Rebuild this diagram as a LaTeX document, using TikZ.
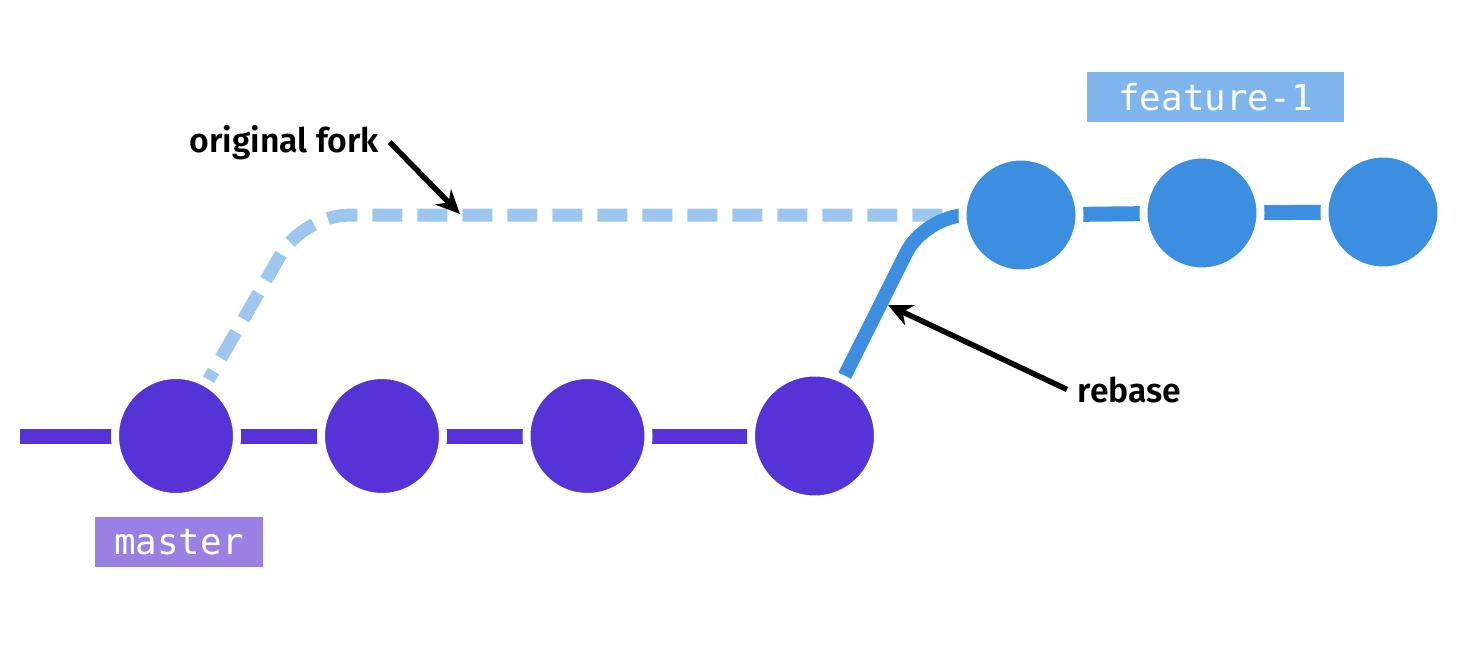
\documentclass[tikz,border=0pt]{standalone}
\usepackage{fontspec}
\newfontfamily\notefont{Fira Sans}[UprightFont={* Medium},BoldFont={* SemiBold}]
\newfontfamily\tagfont{DejaVu Sans Mono}
\usetikzlibrary{backgrounds,arrows.meta}
\definecolor{mastercol}{HTML}{5533D6}
\definecolor{featcol}{HTML}{3C8FE0}
\definecolor{forkcol}{HTML}{9EC7F0}
\definecolor{mastertagcol}{HTML}{9980E2}
\definecolor{feattagcol}{HTML}{80B4EC}

\begin{document}
\begin{tikzpicture}[
  commit/.style={circle,draw=white,line width=0.08cm,inner sep=0pt,minimum size=1.22cm},
  tag/.style={text=white,inner sep=0pt,minimum height=0.5cm,font=\tagfont\fontsize{10.2}{12}\selectfont},
  note/.style={font=\notefont\bfseries\fontsize{9.6}{11}\selectfont,inner sep=0.1cm},
  pointer/.style={line width=0.055cm,-{Stealth[length=0.24cm,width=0.22cm]}}
]
\useasboundingbox (0,0) rectangle (14.57,6.46);
\node[commit,fill=mastercol] (m1) at (1.76,2.10) {};
\node[commit,fill=mastercol] (m2) at (3.82,2.10) {};
\node[commit,fill=mastercol] (m3) at (5.875,2.10) {};
\node[commit,fill=mastercol,minimum size=1.27cm] (m4) at (8.145,2.10) {};
\node[commit,fill=featcol,minimum size=1.17cm] (f1) at (10.21,4.31) {};
\node[commit,fill=featcol,minimum size=1.17cm] (f2) at (12.02,4.33) {};
\node[commit,fill=featcol,minimum size=1.17cm] (f3) at (13.83,4.34) {};
\node[tag,fill=mastertagcol,minimum width=1.68cm] (mastertag) at (1.79,1.04) {master};
\node[tag,fill=feattagcol,minimum width=2.57cm] (feattag) at (12.155,5.49) {feature-1};
\node[note,anchor=base west] (fork) at (1.79,4.94) {original fork};
\node[note,anchor=base west] (rebase) at (10.67,2.44) {rebase};
\coordinate (forkhit) at (4.60,4.32);
\coordinate (rebasehit) at (8.88,3.41);
\draw[pointer] (fork.east) -- (forkhit);
\draw[pointer] (rebase.west) -- (rebasehit);
\begin{scope}[on background layer]
\coordinate (start) at (0.20,2.10);
\draw[mastercol,line width=0.15cm] (start) -- (m1.center) -- (m2.center) -- (m3.center) -- (m4.center);
\draw[forkcol,line width=0.13cm,dash pattern=on 0.3cm off 0.15cm,rounded corners=0.45cm] (m1.center) -- ++(60:2.55) -- (f1.center);
\draw[featcol,line width=0.14cm,rounded corners=0.42cm] (m4.center) -- ++(63.4:2.47) -- (f1.center);
\draw[featcol,line width=0.15cm] (f1.center) -- (f2.center) -- (f3.center);
\end{scope}
\end{tikzpicture}
\end{document}
